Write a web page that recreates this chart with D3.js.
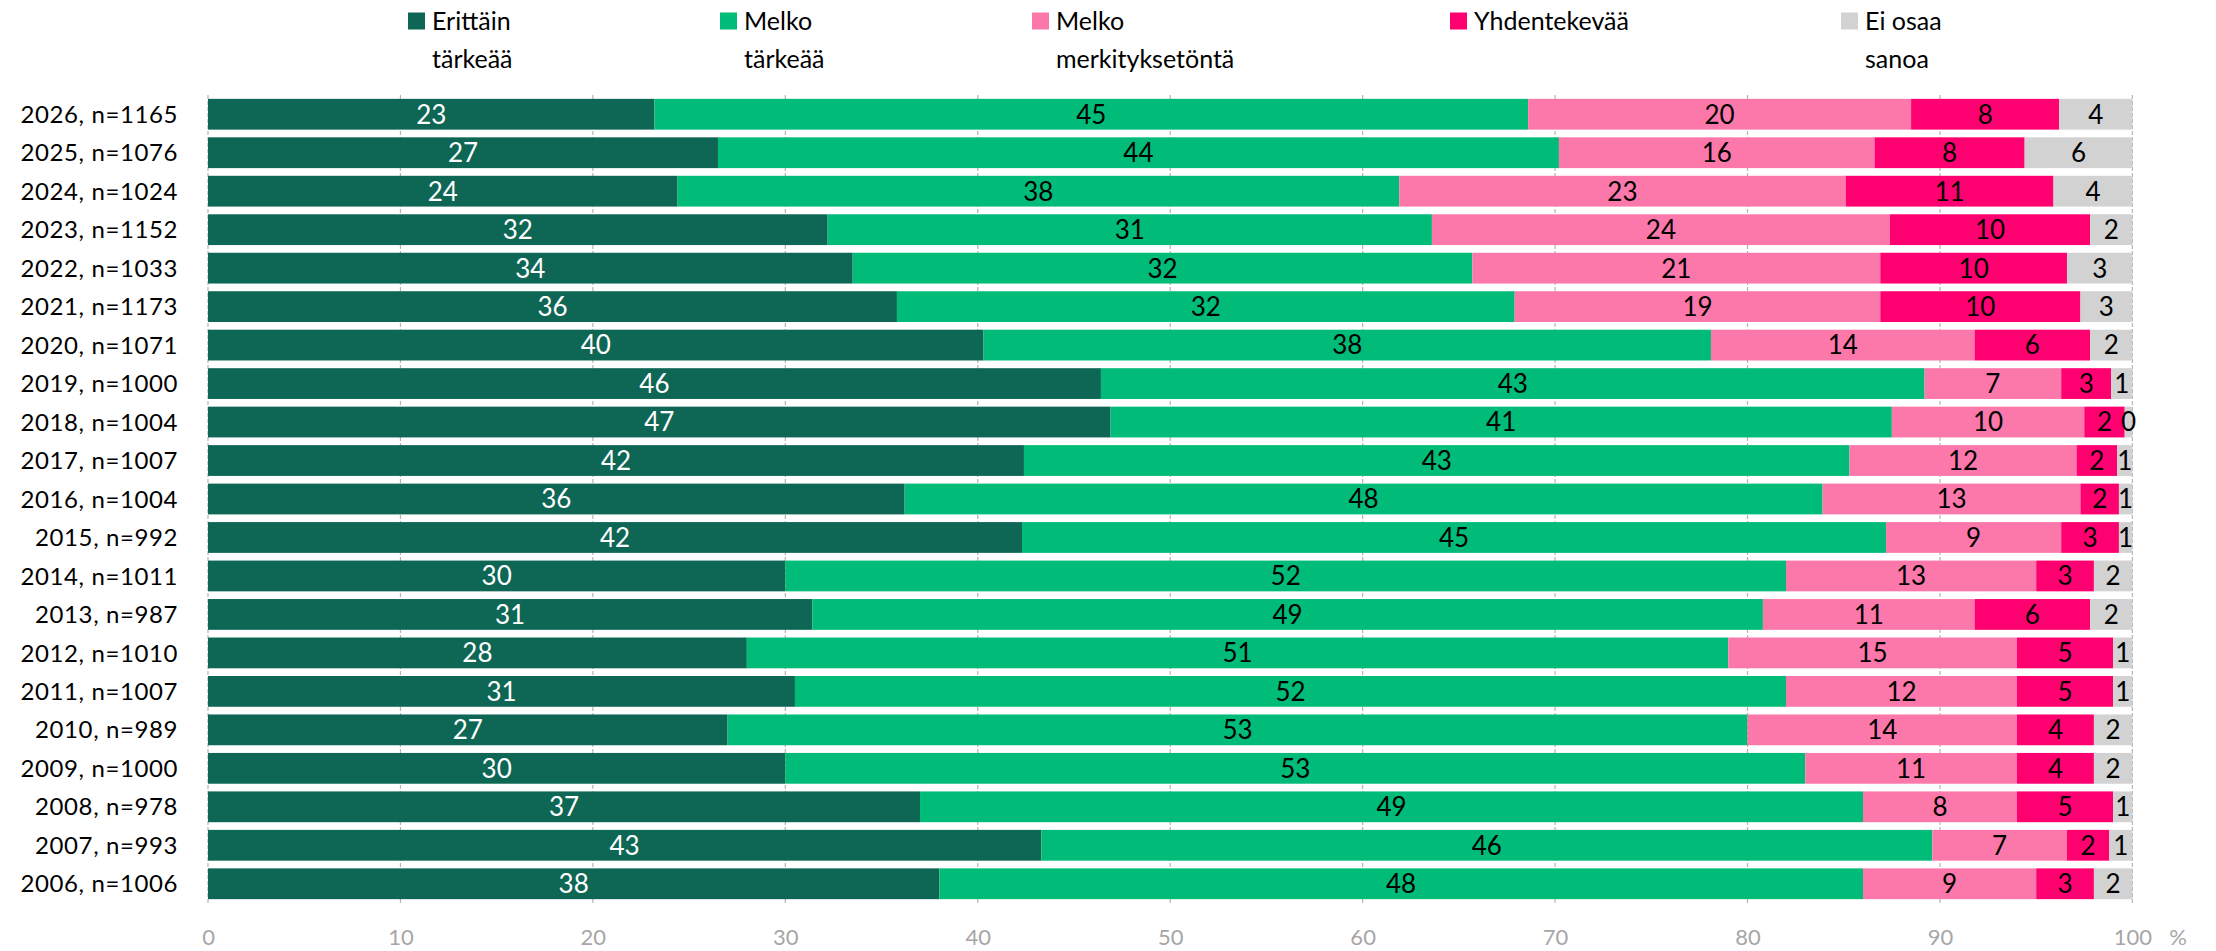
<!DOCTYPE html>
<html>
<head>
	<meta charset="utf-8">
	<script src="https://cdn.jsdelivr.net/npm/d3@7"></script>
	<style>
		body { margin: 0; background: #fff; }
		text { font-family: Lato, "Open Sans", sans-serif; }
	</style>
</head>
<body>
	<script>
		// rows from top to bottom
		var categories = ['2026, n=1165', '2025, n=1076', '2024, n=1024', '2023, n=1152', '2022, n=1033',
			'2021, n=1173', '2020, n=1071', '2019, n=1000', '2018, n=1004', '2017, n=1007', '2016, n=1004',
			'2015, n=992', '2014, n=1011', '2013, n=987', '2012, n=1010', '2011, n=1007', '2010, n=989',
			'2009, n=1000', '2008, n=978', '2007, n=993', '2006, n=1006'];

		var erittainTarkeaa = [23.2, 26.5, 24.4, 32.2, 33.5, 35.8, 40.3, 46.4, 46.9, 42.4, 36.2, 42.3, 30, 31.4, 28, 30.5, 27, 30, 37, 43.3, 38];
		var melkoTarkeaa = [45.4, 43.7, 37.5, 31.4, 32.2, 32.1, 37.8, 42.8, 40.6, 42.9, 47.7, 44.9, 52, 49.4, 51, 51.5, 53, 53, 49, 46.3, 48];
		var melkoMerkitykseton = [19.9, 16.4, 23.2, 23.8, 21.2, 19.0, 13.7, 7.1, 10.0, 11.8, 13.4, 9.1, 13, 11.0, 15, 12, 14, 11, 8, 7.0, 9];
		var yhdentekevaa = [7.7, 7.8, 10.8, 10.4, 9.7, 10.4, 6.0, 2.6, 2.1, 2.1, 2.0, 3.0, 3, 6.0, 5, 5, 4, 4, 5, 2.2, 3];
		var eiOsaaSanoa = [3.8, 5.6, 4.1, 2.2, 3.4, 2.7, 2.2, 1.1, 0.4, 0.8, 0.7, 0.7, 2, 2.2, 1, 1, 2, 2, 1, 1.2, 2];

		var seriesKeys = ['erittain', 'melko', 'merk', 'yhd', 'ei'];
		var legendLines = [['Erittäin', 'tärkeää'], ['Melko', 'tärkeää'], ['Melko', 'merkityksetöntä'], ['Yhdentekevää'], ['Ei osaa', 'sanoa']];
		var colors = ['#0e6655', '#00bc78', '#fc78ab', '#ff0071', '#d2d2d2'];
		var labelColors = ['#ffffff', '#000000', '#000000', '#000000', '#000000'];
		var legendX = [408, 720, 1032, 1450, 1841];

		var width = 2216, height = 951;
		var plotLeft = 208, plotRight = 2132.4, plotTop = 95, plotBottom = 903;

		var table = categories.map(function (c, i) {
			return {
				cat: c,
				erittain: erittainTarkeaa[i],
				melko: melkoTarkeaa[i],
				merk: melkoMerkitykseton[i],
				yhd: yhdentekevaa[i],
				ei: eiOsaaSanoa[i]
			};
		});

		var svg = d3.select('body').append('svg')
			.attr('width', width)
			.attr('height', height);

		var x = d3.scaleLinear().domain([0, 100]).range([plotLeft, plotRight]);
		var y = d3.scaleBand().domain(categories).range([plotTop, plotBottom])
			.paddingInner(0.2).paddingOuter(0.1);

		// gridlines behind the bars
		svg.append('g').selectAll('line')
			.data(x.ticks(10))
			.enter().append('line')
			.attr('x1', function (d) { return x(d); })
			.attr('x2', function (d) { return x(d); })
			.attr('y1', plotTop)
			.attr('y2', plotBottom)
			.attr('stroke', '#b4b4b4')
			.attr('stroke-width', 1.2)
			.attr('stroke-dasharray', '4,2');

		var stacked = d3.stack().keys(seriesKeys)(table);

		var groups = svg.append('g').selectAll('g')
			.data(stacked)
			.enter().append('g')
			.attr('fill', function (d, i) { return colors[i]; });

		groups.selectAll('rect')
			.data(function (d) { return d; })
			.enter().append('rect')
			.attr('x', function (d) { return x(d[0]); })
			.attr('y', function (d) { return y(d.data.cat); })
			.attr('width', function (d) { return x(d[1]) - x(d[0]); })
			.attr('height', y.bandwidth());

		// value labels
		svg.append('g').selectAll('g')
			.data(stacked)
			.enter().append('g')
			.attr('fill', function (d, i) { return labelColors[i]; })
			.selectAll('text')
			.data(function (d) { return d; })
			.enter().append('text')
			.attr('x', function (d) { return (x(d[0]) + x(d[1])) / 2; })
			.attr('y', function (d) { return y(d.data.cat) + y.bandwidth() / 2; })
			.attr('dy', '0.36em')
			.attr('text-anchor', 'middle')
			.style('font-size', '26px')
			.text(function (d) { return Math.round(d[1] - d[0]); });

		// category labels
		svg.append('g').selectAll('text')
			.data(categories)
			.enter().append('text')
			.attr('x', 178)
			.attr('y', function (d) { return y(d) + y.bandwidth() / 2; })
			.attr('dy', '0.36em')
			.attr('text-anchor', 'end')
			.style('font-size', '24px')
			.style('letter-spacing', '0.6px')
			.attr('fill', '#000')
			.text(function (d) { return d; });

		// bottom axis labels
		var xAxis = svg.append('g')
			.attr('transform', 'translate(0,' + plotBottom + ')')
			.call(d3.axisBottom(x).ticks(10).tickSize(0).tickPadding(26));
		xAxis.select('.domain').remove();
		xAxis.selectAll('text')
			.style('font-family', 'Lato, "Open Sans", sans-serif')
			.style('font-size', '22px')
			.attr('fill', '#a6a6a6');

		svg.append('text')
			.attr('x', 2178)
			.attr('y', 945)
			.attr('text-anchor', 'middle')
			.style('font-size', '22px')
			.attr('fill', '#a6a6a6')
			.text('%');

		// legend
		var legend = svg.append('g').selectAll('g')
			.data(legendLines)
			.enter().append('g')
			.attr('transform', function (d, i) { return 'translate(' + legendX[i] + ',0)'; });

		legend.append('rect')
			.attr('x', 0)
			.attr('y', 12.5)
			.attr('width', 17)
			.attr('height', 17)
			.attr('fill', function (d, i) { return colors[i]; });

		legend.each(function (lines) {
			var g = d3.select(this);
			lines.forEach(function (line, j) {
				g.append('text')
					.attr('x', 24)
					.attr('y', 30 + j * 38)
					.style('font-size', '25px')
					.attr('fill', '#000')
					.text(line);
			});
		});
	</script>
</body>
</html>
